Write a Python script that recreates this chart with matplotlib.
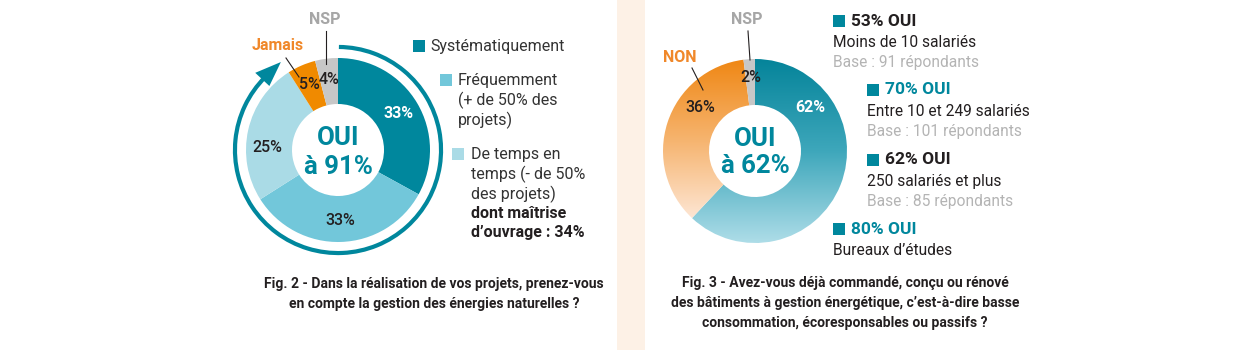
import matplotlib
matplotlib.use("Agg")
import matplotlib.pyplot as plt
from matplotlib.patches import Arc, Polygon, Rectangle
from matplotlib.lines import Line2D
from matplotlib.colors import LinearSegmentedColormap
import numpy as np

# ---------------- data ----------------
fig2_categories = ["Systématiquement", "Fréquemment", "De temps en temps", "Jamais", "NSP"]
fig2_values = [33, 33, 25, 5, 4]
fig2_oui = 91
fig2_moa = 34
fig2_legend = [["Systématiquement"],
               ["Fréquemment", "(+ de 50% des", "projets)"],
               ["De temps en", "temps (- de 50%", "des projets)"]]
fig2_title = ["Fig. 2 - Dans la réalisation de vos projets, prenez-vous",
              "en compte la gestion des énergies naturelles ?"]

fig3_categories = ["OUI", "NON", "NSP"]
fig3_values = [62, 36, 2]
fig3_oui = 62
fig3_groups = ["Moins de 10 salariés", "Entre 10 et 249 salariés",
               "250 salariés et plus", "Bureaux d’études"]
fig3_group_oui = [53, 70, 62, 80]
fig3_group_base = [91, 101, 85, None]
fig3_title = ["Fig. 3 - Avez-vous déjà commandé, conçu ou rénové",
              "des bâtiments à gestion énergétique, c’est-à-dire basse",
              "consommation, écoresponsables ou passifs ?"]

# ---------------- style ----------------
TEAL = "#00879d"
MID = "#72c7da"
LIGHT = "#aadbe6"
ORANGE = "#f08a00"
GREY = "#c7c7c7"
DARK = "#231f20"
TXT = "#333333"
GREYTXT = "#b4b4b4"
NSPTXT = "#a6a6a6"
ORANGETXT = "#f0882a"
CREAM = "#fdf1e6"
FONT = ["Roboto", "DejaVu Sans"]
TFONT = ["Liberation Sans Narrow", "Roboto", "DejaVu Sans"]

W, H = 1250, 350
fig = plt.figure(figsize=(W / 100, H / 100), dpi=100)
fig.patch.set_facecolor("white")


def P(x, y):
    return (x / W, 1 - y / H)


def ftext(x, y, s, **kw):
    kw.setdefault("family", FONT)
    kw.setdefault("va", "center")
    fig.text(*P(x, y), s, **kw)


def square(x, y, color, size=12):
    fig.add_artist(Rectangle(P(x, y + size), size / W, size / H,
                             transform=fig.transFigure, color=color, lw=0))


def leader(x0, y0, x1, y1):
    fig.add_artist(Line2D([x0 / W, x1 / W], [1 - y0 / H, 1 - y1 / H],
                          transform=fig.transFigure, color=DARK, lw=0.8))


def donut_ax(cx, cy, r, lim=1.3):
    size = 2 * lim * r
    ax = fig.add_axes([(cx - size / 2) / W, 1 - (cy + size / 2) / H, size / W, size / H])
    ax.axis("off")
    return ax, lim


# cream separator strip
fig.add_artist(Rectangle(P(617, 350), 28 / W, 1, transform=fig.transFigure,
                         color=CREAM, lw=0, zorder=0))

# ---------------- Fig. 2 donut ----------------
ax1, lim = donut_ax(338, 150, 92)
w1, _ = ax1.pie(fig2_values, colors=[TEAL, MID, LIGHT, ORANGE, GREY], startangle=90,
                counterclock=False, radius=1, wedgeprops=dict(width=0.5, linewidth=0))
ax1.set_xlim(-lim, lim)
ax1.set_ylim(-lim, lim)
fr = np.array(fig2_values) / np.sum(fig2_values)
mid = 90 - (np.cumsum(fr) - fr / 2) * 360
mid[2] = 178  # label of the 25% slice sits a little lower in the original
lab_col = ["white", DARK, DARK, DARK, DARK]
for v, a, c in zip(fig2_values, np.deg2rad(mid), lab_col):
    ax1.text(0.77 * np.cos(a), 0.77 * np.sin(a), f"{v}%", ha="center", va="center",
             color=c, fontsize=11.5, family=FONT,
             weight="bold" if c == "white" else "medium")
ax1.text(0, 0.13, "OUI", ha="center", va="center", color=TEAL, fontsize=18.5,
         weight="bold", family=FONT)
ax1.text(0, -0.18, f"à {fig2_oui}%", ha="center", va="center", color=TEAL,
         fontsize=18.5, weight="bold", family=FONT)
# arrow ring (share of OUI)
R = 1.12
start = 90 - 0.5
end = 135
ax1.add_patch(Arc((0, 0), 2 * R, 2 * R, theta1=end, theta2=start + 360,
                  color=TEAL, lw=3.0))
tip = np.deg2rad(123)
base = np.deg2rad(137)
ax1.add_patch(Polygon([[(R + 0.02) * np.cos(tip), (R + 0.02) * np.sin(tip)],
                       [(R - 0.1) * np.cos(base), (R - 0.1) * np.sin(base)],
                       [(R + 0.11) * np.cos(base), (R + 0.11) * np.sin(base)]],
                      closed=True, color=TEAL, lw=0))

ftext(278, 45, "Jamais", ha="center", color=ORANGETXT, fontsize=11.5, weight="bold")
leader(286, 58, 299, 77)
ftext(325, 19, "NSP", ha="center", color=NSPTXT, fontsize=11.5, weight="bold")
leader(326, 31, 326, 64)

# legend Fig. 2
LS = 11.5
square(413, 40, TEAL)
ftext(430, 46, fig2_legend[0][0], color=TXT, fontsize=LS)
square(440, 74, MID)
for i, s in enumerate(fig2_legend[1]):
    ftext(458, 80 + 20 * i, s, color=TXT, fontsize=LS)
square(452, 148, LIGHT)
for i, s in enumerate(fig2_legend[2]):
    ftext(471, 155 + 19.5 * i, s, color=TXT, fontsize=LS)
ftext(471, 213.5, "dont maîtrise", color=DARK, fontsize=LS, weight="bold")
ftext(471, 233, f"d’ouvrage : {fig2_moa}%", color=DARK, fontsize=LS, weight="bold")

for i, s in enumerate(fig2_title):
    ftext(434, 284 + 20 * i, s, ha="center", color=DARK, fontsize=10,
          weight="bold", family=TFONT)

# ---------------- Fig. 3 donut ----------------
ax2, lim = donut_ax(755, 151, 92)
w2, _ = ax2.pie(fig3_values, colors=["none", "none", GREY], startangle=90,
                counterclock=False, radius=1, wedgeprops=dict(width=0.5, linewidth=0))
yy = np.linspace(-1, 1, 256)[:, None] * np.ones((1, 4))
cm_teal = LinearSegmentedColormap.from_list(
    "t", [(0, "#aedde8"), (0.5, "#3ea7bb"), (1, "#05849a")])
cm_or = LinearSegmentedColormap.from_list(
    "o", [(0, "#fff3ea"), (0.15, "#fde4d0"), (0.55, "#f6b571"), (1, "#ef8714")])
for wdg, cm in zip(w2[:2], [cm_teal, cm_or]):
    im = ax2.imshow(yy, extent=[-1, 1, -1, 1], origin="lower", cmap=cm,
                    aspect="equal", interpolation="bilinear", zorder=0.5)
    im.set_clip_path(wdg)
ax2.set_xlim(-lim, lim)
ax2.set_ylim(-lim, lim)
fr3 = np.array(fig3_values) / np.sum(fig3_values)
mid3 = 90 - (np.cumsum(fr3) - fr3 / 2) * 360
lab_ang = [38, 142, mid3[2]]
lab_col = ["white", DARK, DARK]
for v, a, c in zip(fig3_values, lab_ang, lab_col):
    a = np.deg2rad(a)
    r = 0.76 if v > 5 else 0.8
    ax2.text(r * np.cos(a), r * np.sin(a), f"{v}%", ha="center", va="center",
             color=c, fontsize=11.5, family=FONT,
             weight="bold" if c == "white" else "medium", zorder=3)
ax2.text(0, 0.13, "OUI", ha="center", va="center", color=TEAL, fontsize=18.5,
         weight="bold", family=FONT, zorder=3)
ax2.text(0, -0.16, f"à {fig3_oui}%", ha="center", va="center", color=TEAL,
         fontsize=18.5, weight="bold", family=FONT, zorder=3)

ftext(680, 58, "NON", ha="center", color=ORANGETXT, fontsize=11.5, weight="bold")
leader(692, 68, 703, 90)
ftext(747, 19, "NSP", ha="center", color=NSPTXT, fontsize=11.5, weight="bold")
leader(748, 31, 750, 60)

# legend Fig. 3
pos = [(833, 21), (867, 90), (867, 160), (833, 229)]
head_col = [DARK, TEAL, DARK, TEAL]
for (x, y), pct, grp, base, hc in zip(pos, fig3_group_oui, fig3_groups,
                                       fig3_group_base, head_col):
    square(x, y - 6, TEAL)
    ftext(x + 18, y, f"{pct}% OUI", color=hc, fontsize=12.5, weight="bold")
    ftext(x, y + 21.5, grp, color=DARK, fontsize=11.2)
    if base is not None:
        ftext(x, y + 41.5, f"Base : {base} répondants", color=GREYTXT, fontsize=11.2)

for i, s in enumerate(fig3_title):
    ftext(845, 283 + 20 * i, s, ha="center", color=DARK, fontsize=10,
          weight="bold", family=TFONT)

fig.savefig("out.png", dpi=100, facecolor="white")
